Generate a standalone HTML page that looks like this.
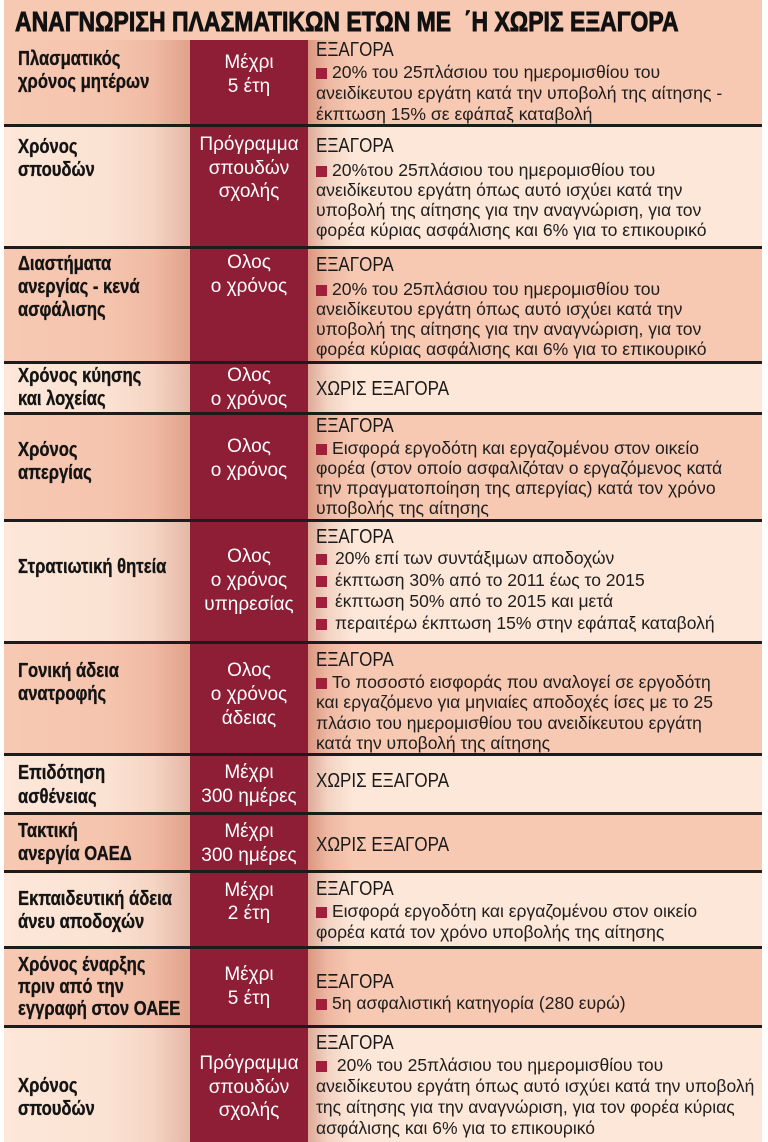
<!DOCTYPE html>
<html><head><meta charset="utf-8">
<style>
html,body{margin:0;padding:0}
body{width:768px;height:1142px;background:#fff;position:relative;overflow:hidden;font-family:"Liberation Sans","Noto Sans CJK SC",sans-serif}
div{position:absolute}
.row{left:4px;width:758px}
.dk{background:#f7c8b2}
.lt{background:#fde7d8}
.ln{left:4px;width:758px;height:3px;background:#1c1c1c}
.l{left:18px;font-weight:bold;font-size:20px;line-height:23px;transform:scaleX(.83);transform-origin:0 0;white-space:nowrap;color:#141414;-webkit-text-stroke:.35px #141414}
.m{left:190px;width:118px;text-align:center;color:#fff;font-size:19px;line-height:24px;white-space:nowrap}
.h{left:316px;font-size:20px;line-height:24px;transform:scaleX(.85);transform-origin:0 0;white-space:nowrap;color:#1a1a1a}
.t{left:316px;font-size:17.6px;line-height:20px;white-space:nowrap;color:#1e1e1e}
.t2{left:316px;font-size:17.5px;line-height:21px;white-space:nowrap;color:#1e1e1e}
.b{display:inline-block;width:11px;height:11px;background:#a0203c;margin-right:5px;vertical-align:-1px}
.t2 .b{margin-right:8px}
</style></head><body>

<!-- backgrounds -->
<div class="row dk" style="top:0;height:40px"></div>
<div class="row dk" style="top:40px;height:86px"></div>
<div class="row lt" style="top:126px;height:121px"></div>
<div class="row dk" style="top:247px;height:116px"></div>
<div class="row lt" style="top:363px;height:51px"></div>
<div class="row dk" style="top:414px;height:107px"></div>
<div class="row lt" style="top:521px;height:122px"></div>
<div class="row dk" style="top:643px;height:112px"></div>
<div class="row lt" style="top:755px;height:59px"></div>
<div class="row dk" style="top:814px;height:58px"></div>
<div class="row lt" style="top:872px;height:76px"></div>
<div class="row dk" style="top:948px;height:79px"></div>
<div class="row lt" style="top:1027px;height:115px"></div>

<!-- shading -->
<div style="left:4px;width:186px;top:40px;height:1102px;background:linear-gradient(to right,rgba(190,90,60,0) 0%,rgba(190,90,60,.03) 55%,rgba(190,90,60,.13) 80%,rgba(180,80,55,.32) 100%)"></div>
<div style="left:190px;width:118px;top:40px;height:1102px;background:#8e1e36"></div>
<div style="left:308px;width:45px;top:40px;height:1102px;background:linear-gradient(to right,rgba(170,70,45,.38),rgba(170,70,45,.12) 45%,rgba(170,70,45,0))"></div>

<!-- lines -->
<div class="ln" style="top:124px"></div>
<div class="ln" style="top:246px"></div>
<div class="ln" style="top:361px"></div>
<div class="ln" style="top:412px"></div>
<div class="ln" style="top:519px"></div>
<div class="ln" style="top:641px"></div>
<div class="ln" style="top:753px"></div>
<div class="ln" style="top:812px"></div>
<div class="ln" style="top:870px"></div>
<div class="ln" style="top:946px"></div>
<div class="ln" style="top:1025px"></div>

<!-- title -->
<div style="left:15px;top:6px;font-size:28px;line-height:32px;font-weight:bold;white-space:nowrap;transform:scaleX(.82);transform-origin:0 0;color:#111;-webkit-text-stroke:.9px #111">ΑΝΑΓΝΩΡΙΣΗ ΠΛΑΣΜΑΤΙΚΩΝ ΕΤΩΝ ΜΕ &nbsp;΄Η ΧΩΡΙΣ ΕΞΑΓΟΡΑ</div>

<!-- row 1 -->
<div class="l" style="top:48px">Πλασματικός<br>χρόνος μητέρων</div>
<div class="m" style="top:51px">Μέχρι<br>5 έτη</div>
<div class="h" style="top:38px">ΕΞΑΓΟΡΑ</div>
<div class="t" style="top:62px;line-height:21px"><span class="b"></span>20% του 25πλάσιου του ημερομισθίου του<br>ανειδίκευτου εργάτη κατά την υποβολή της αίτησης -<br>έκπτωση 15% σε εφάπαξ καταβολή</div>

<!-- row 2 -->
<div class="l" style="top:136px">Χρόνος<br>σπουδών</div>
<div class="m" style="top:133px;line-height:23.5px">Πρόγραμμα<br>σπουδών<br>σχολής</div>
<div class="h" style="top:134px">ΕΞΑΓΟΡΑ</div>
<div class="t" style="top:160px"><span class="b"></span>20%του 25πλάσιου του ημερομισθίου του<br>ανειδίκευτου εργάτη όπως αυτό ισχύει κατά την<br>υποβολή της αίτησης για την αναγνώριση, για τον<br>φορέα κύριας ασφάλισης και 6% για το επικουρικό</div>

<!-- row 3 -->
<div class="l" style="top:253px">Διαστήματα<br>ανεργίας - κενά<br>ασφάλισης</div>
<div class="m" style="top:251px">Ολος<br>ο χρόνος</div>
<div class="h" style="top:253px">ΕΞΑΓΟΡΑ</div>
<div class="t" style="top:279px"><span class="b"></span>20% του 25πλάσιου του ημερομισθίου του<br>ανειδίκευτου εργάτη όπως αυτό ισχύει κατά την<br>υποβολή της αίτησης για την αναγνώριση, για τον<br>φορέα κύριας ασφάλισης και 6% για το επικουρικό</div>

<!-- row 4 -->
<div class="l" style="top:365px">Χρόνος κύησης<br>και λοχείας</div>
<div class="m" style="top:364px">Ολος<br>ο χρόνος</div>
<div class="h" style="top:377px">ΧΩΡΙΣ ΕΞΑΓΟΡΑ</div>

<!-- row 5 -->
<div class="l" style="top:439px">Χρόνος<br>απεργίας</div>
<div class="m" style="top:435px">Ολος<br>ο χρόνος</div>
<div class="h" style="top:414px">ΕΞΑΓΟΡΑ</div>
<div class="t" style="top:438px"><span class="b"></span>Εισφορά εργοδότη και εργαζομένου στον οικείο<br>φορέα (στον οποίο ασφαλιζόταν ο εργαζόμενος κατά<br>την πραγματοποίηση της απεργίας) κατά τον χρόνο<br>υποβολής της αίτησης</div>

<!-- row 6 -->
<div class="l" style="top:556px">Στρατιωτική θητεία</div>
<div class="m" style="top:545px">Ολος<br>ο χρόνος<br>υπηρεσίας</div>
<div class="h" style="top:525px">ΕΞΑΓΟΡΑ</div>
<div class="t2" style="top:548px;line-height:21.7px"><span class="b"></span>20% επί των συντάξιμων αποδοχών<br><span class="b"></span>έκπτωση 30% από το 2011 έως το 2015<br><span class="b"></span>έκπτωση 50% από το 2015 και μετά<br><span class="b"></span>περαιτέρω έκπτωση 15% στην εφάπαξ καταβολή</div>

<!-- row 7 -->
<div class="l" style="top:660px">Γονική άδεια<br>ανατροφής</div>
<div class="m" style="top:659px">Ολος<br>ο χρόνος<br>άδειας</div>
<div class="h" style="top:648px">ΕΞΑΓΟΡΑ</div>
<div class="t2" style="top:672px;line-height:20.4px"><span class="b" style="margin-right:5px"></span>Το ποσοστό εισφοράς που αναλογεί σε εργοδότη<br>και εργαζόμενο για μηνιαίες αποδοχές ίσες με το 25<br>πλάσιο του ημερομισθίου του ανειδίκευτου εργάτη<br>κατά την υποβολή της αίτησης</div>

<!-- row 8 -->
<div class="l" style="top:761px;line-height:24px">Επιδότηση<br>ασθένειας</div>
<div class="m" style="top:761px">Μέχρι<br>300 ημέρες</div>
<div class="h" style="top:769px">ΧΩΡΙΣ ΕΞΑΓΟΡΑ</div>

<!-- row 9 -->
<div class="l" style="top:820px">Τακτική<br>ανεργία ΟΑΕΔ</div>
<div class="m" style="top:820px">Μέχρι<br>300 ημέρες</div>
<div class="h" style="top:833px">ΧΩΡΙΣ ΕΞΑΓΟΡΑ</div>

<!-- row 10 -->
<div class="l" style="top:888px">Εκπαιδευτική άδεια<br>άνευ αποδοχών</div>
<div class="m" style="top:879px;line-height:23px">Μέχρι<br>2 έτη</div>
<div class="h" style="top:877px">ΕΞΑΓΟΡΑ</div>
<div class="t2" style="top:901px"><span class="b" style="margin-right:5px"></span>Εισφορά εργοδότη και εργαζομένου στον οικείο<br>φορέα κατά τον χρόνο υποβολής της αίτησης</div>

<!-- row 11 -->
<div class="l" style="top:954px;line-height:22px">Χρόνος έναρξης<br>πριν από την<br>εγγραφή στον ΟΑΕΕ</div>
<div class="m" style="top:963px">Μέχρι<br>5 έτη</div>
<div class="h" style="top:970px">ΕΞΑΓΟΡΑ</div>
<div class="t2" style="top:993px"><span class="b" style="margin-right:5px"></span>5η ασφαλιστική κατηγορία (280 ευρώ)</div>

<!-- row 12 -->
<div class="l" style="top:1075px">Χρόνος<br>σπουδών</div>
<div class="m" style="top:1052px;line-height:23.5px">Πρόγραμμα<br>σπουδών<br>σχολής</div>
<div class="h" style="top:1031px">ΕΞΑΓΟΡΑ</div>
<div class="t2" style="top:1055px"><span class="b" style="margin-right:5px"></span>&nbsp;20% του 25πλάσιου του ημερομισθίου του<br>ανειδίκευτου εργάτη όπως αυτό ισχύει κατά την υποβολή<br>της αίτησης για την αναγνώριση, για τον φορέα κύριας<br>ασφάλισης και 6% για το επικουρικό</div>

</body></html>
